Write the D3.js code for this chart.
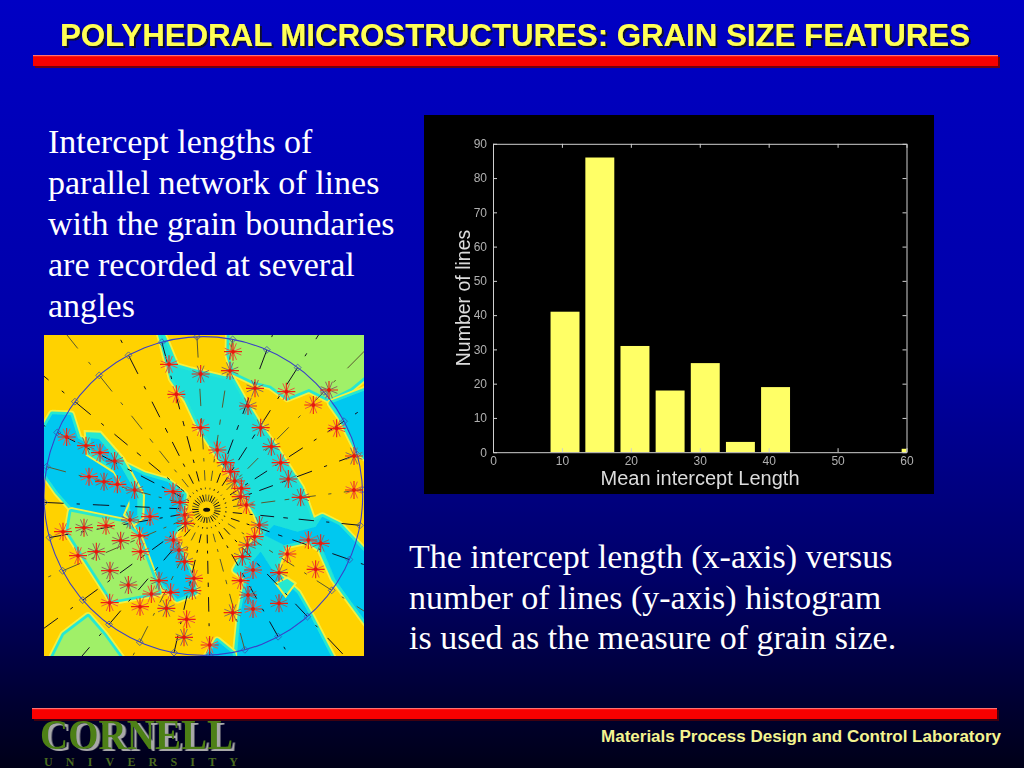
<!DOCTYPE html>
<html><head><meta charset="utf-8">
<script src="https://cdn.jsdelivr.net/npm/d3@7"></script>
<style>html,body{margin:0;padding:0;background:#000}svg{display:block}</style></head><body>
<svg id="s" width="1024" height="768"></svg>
<script>
// ---- slide text
const titleText = "POLYHEDRAL MICROSTRUCTURES: GRAIN SIZE FEATURES";
const leftLines = ["Intercept lengths of","parallel network of lines","with the grain boundaries","are recorded at several","angles"];
const rightLines = ["The intercept length (x-axis) versus","number of lines (y-axis) histogram","is used as the measure of grain size."];
const footerText = "Materials Process Design and Control Laboratory";
// ---- histogram
const binCenters = [10.45,15.5,20.6,25.7,30.8,35.9,41.0];
const binCounts = [41,86,31,18,26,3,19];
const lastBinCenter = [59.7];
const lastBinCount = [1];
const xTicks = [0,10,20,30,40,50,60];
const yTicks = [0,10,20,30,40,50,60,70,80,90];
const xLabel = "Mean intercept Length";
const yLabel = "Number of lines";
// ---- microstructure map (picture units, 0-960)
const regionGreenTop = [[557,-20],[980,-20],[980,110],[920,160],[855,192],[795,162],[730,188],[680,152],[630,140],[570,112],[555,60]];
const regionBlueRight = [[862,205],[980,160],[980,380],[940,345],[890,245]];
const regionMainBand = [[345,-20],[368,30],[395,95],[440,108],[540,132],[562,132],[600,200],[640,265],[700,350],[770,460],[805,560],[835,545],[885,570],[980,670],[980,880],[870,730],[830,640],[790,615],[720,630],[690,712],[760,775],[800,845],[870,980],[575,980],[590,830],[610,730],[575,705],[605,650],[660,595],[640,540],[590,450],[530,370],[470,280],[430,195],[385,130]];
const regionBlueLeft = [[-20,315],[25,238],[80,240],[102,310],[220,380],[300,420],[370,440],[420,480],[412,560],[385,600],[440,720],[452,772],[400,792],[340,730],[300,610],[285,575],[240,570],[80,515],[40,470],[-20,385]];
const regionStripA = [[122,288],[170,290],[240,370],[300,480],[298,550],[270,572],[240,540],[262,490],[210,412],[128,360]];
const regionBlueInner = [[140,310],[165,312],[225,385],[280,480],[280,540],[262,555],[255,490],[205,400],[140,345]];
const regionGreenLow = [[82,530],[240,562],[280,600],[345,772],[205,797],[72,590]];
const regionGreenCorner = [[20,980],[60,900],[132,845],[180,900],[238,980]];
const regionBlueFoot = [[480,980],[520,918],[565,955],[575,980]];
const regionBlueLower = [[590,720],[610,735],[590,830],[578,980],[870,980],[800,845],[760,775],[690,712],[650,650]];
const regionBlueMid = [[660,600],[720,630],[790,615],[835,640],[875,735],[980,880],[980,670],[885,570],[835,545],[815,575],[760,590],[690,570]];
const regionYellowPatch = [[695,745],[730,728],[755,745],[725,785]];
// radial grid: angle of each spoke in degrees clockwise from top
const spokeAngles = [10.6,23.5,36.3,49.2,62,74.9,87.7,100.6,113.5,126.3,139.2,152,164.9,177.7,190.6,203.5,216.3,229.2,242,254.9,267.7,280.6,293.5,306.3,319.2,332,344.9,357.7];
// dash start/end along a spoke, as a fraction of the distance to the circle
const dashFrom = [0.05,0.12,0.17,0.28,0.35,0.50,0.60,0.78,0.88,1.08,1.20];
const dashTo   = [0.09,0.13,0.23,0.30,0.44,0.53,0.70,0.80,1.00,1.10,1.35];
const markerX = [567,558,375,470,397,633,727,855,808,612,470,650,878,682,520,545,710,930,68,126,168,212,135,180,220,272,387,408,560,572,592,590,607,733,930,770,422,424,318,258,186,120,57,646,632,610,793,830,287,230,388,405,290,157,102,595,730,422,627,705,815,198,450,345,590,253,380,445,322,612,197,705,288,367,627,566,428,420,497];
const markerY = [50,107,88,117,178,160,170,165,210,213,278,278,280,335,345,383,383,363,306,332,353,378,425,440,448,465,470,502,410,438,460,485,510,432,465,487,540,565,545,555,572,578,590,570,605,630,615,625,602,617,615,645,650,650,662,665,657,680,705,713,703,707,730,737,737,750,772,767,777,780,803,805,815,820,822,833,853,907,930];

const svg = d3.select("#s");
const defs = svg.append("defs");
const bg = defs.append("linearGradient").attr("id","bg").attr("x1",0).attr("y1",0).attr("x2",0).attr("y2",1);
[[0,"#0000c4"],[0.45,"#0000a8"],[0.75,"#000068"],[0.92,"#000030"],[1,"#000018"]].forEach(d=>bg.append("stop").attr("offset",d[0]).attr("stop-color",d[1]));
const bl = defs.append("filter").attr("id","soft"); bl.append("feGaussianBlur").attr("stdDeviation",0.45);
const bl2 = defs.append("filter").attr("id","soft2"); bl2.append("feGaussianBlur").attr("stdDeviation",0.4);
const sh = defs.append("filter").attr("id","tsh").attr("x","-5%").attr("y","-20%").attr("width","110%").attr("height","150%");
sh.append("feDropShadow").attr("dx",2).attr("dy",2).attr("stdDeviation",0.4).attr("flood-color","#111133");
const lg = defs.append("filter").attr("id","lsh").attr("x","-5%").attr("y","-20%").attr("width","115%").attr("height","150%");
lg.append("feDropShadow").attr("dx",3.5).attr("dy",2).attr("stdDeviation",0.3).attr("flood-color","#a8a8a8");
svg.append("rect").attr("width",1024).attr("height",768).attr("fill","url(#bg)");

// red rules
function rule(xp,yp,w,h,shadow){
  svg.append("rect").attr("x",xp+2).attr("y",yp+2).attr("width",w).attr("height",h).attr("fill",shadow);
  svg.append("rect").attr("x",xp).attr("y",yp).attr("width",w).attr("height",h).attr("fill","#f80000");
  svg.append("rect").attr("x",xp).attr("y",yp).attr("width",w).attr("height",1.2).attr("fill","#ff7070");
}
rule(33,55,965,11,"#700010");
rule(32,708,965,11,"#400010");

const sans = "'Liberation Sans',Arial,sans-serif", serif = "'Liberation Serif','Times New Roman',serif";
svg.append("text").attr("x",515).attr("y",46).attr("text-anchor","middle").attr("font-family",sans).attr("font-weight","bold").attr("font-size",31.5).attr("textLength",910).attr("lengthAdjust","spacingAndGlyphs").attr("fill","#ffff55").attr("filter","url(#tsh)").text(titleText);

svg.selectAll("text.l").data(leftLines).join("text").attr("class","l").attr("x",48).attr("y",(d,i)=>153+i*41).attr("font-family",serif).attr("font-size",34).attr("fill","#fff").text(d=>d);
svg.selectAll("text.r").data(rightLines).join("text").attr("class","r").attr("x",409).attr("y",(d,i)=>568+i*40.5).attr("font-family",serif).attr("font-size",34).attr("fill","#fff").text(d=>d);

// ---- histogram
svg.append("rect").attr("x",424).attr("y",115).attr("width",510).attr("height",379).attr("fill","#000");
const x = d3.scaleLinear().domain([0,60]).range([493,906.5]);
const y = d3.scaleLinear().domain([0,90]).range([452.2,143.8]);
const hist = svg.append("g").attr("filter","url(#soft2)");
const binW = 4.2;
hist.selectAll("rect.b").data(binCenters.map((c,i)=>[c,binCounts[i]])).join("rect").attr("class","b")
  .attr("x",d=>x(d[0]-binW/2)).attr("width",d=>x(binW)-x(0)).attr("y",d=>y(d[1])).attr("height",d=>y(0)-y(d[1])).attr("fill","#ffff66");
hist.selectAll("rect.c").data(lastBinCenter.map((c,i)=>[c,lastBinCount[i]])).join("rect").attr("class","c")
  .attr("x",d=>x(d[0]-0.4)).attr("width",d=>x(60)-x(d[0]-0.4)).attr("y",d=>y(d[1])).attr("height",d=>y(0)-y(d[1])).attr("fill","#ffff66");
function sty(g,lab){
  g.selectAll("path,line").attr("stroke","#d0d0d0").attr("stroke-width",1);
  g.selectAll("text").attr("font-family",sans).attr("font-size",lab?12:0).attr("fill","#b0b0b0");
}
hist.append("g").attr("transform","translate(0,452.2)").call(d3.axisBottom(x).tickValues(xTicks).tickSize(-4).tickSizeOuter(0).tickPadding(4)).call(g=>sty(g,true));
hist.append("g").attr("transform","translate(0,143.8)").call(d3.axisTop(x).tickValues(xTicks).tickSize(-4).tickSizeOuter(0).tickFormat("")).call(g=>sty(g,false));
hist.append("g").attr("transform","translate(493,0)").call(d3.axisLeft(y).tickValues(yTicks).tickSize(-4).tickSizeOuter(0).tickPadding(6)).call(g=>sty(g,true));
hist.append("g").attr("transform","translate(906.5,0)").call(d3.axisRight(y).tickValues(yTicks).tickSize(-4).tickSizeOuter(0).tickFormat("")).call(g=>sty(g,false));
hist.append("text").attr("x",700).attr("y",485).attr("text-anchor","middle").attr("font-family",sans).attr("font-size",20).attr("fill","#dcdcdc").text(xLabel);
hist.append("text").attr("transform","translate(470,298) rotate(-90)").attr("text-anchor","middle").attr("font-family",sans).attr("font-size",19.5).attr("fill","#dcdcdc").text(yLabel);

// ---- microstructure map
const mx = d3.scaleLinear().domain([0,960]).range([44,364]);
const my = d3.scaleLinear().domain([0,966]).range([335,657]);
defs.append("clipPath").attr("id","mc").append("rect").attr("x",44).attr("y",335).attr("width",320).attr("height",321);
const map = svg.append("g").attr("clip-path","url(#mc)").append("g").attr("filter","url(#soft)");
const line = d3.line().x(d=>mx(d[0])).y(d=>my(d[1])).curve(d3.curveLinearClosed);
map.append("rect").attr("x",44).attr("y",335).attr("width",320).attr("height",322).attr("fill","#ffd200");
function region(pts,fill){
  map.append("path").attr("d",line(pts)).attr("fill","none").attr("stroke","#f4f040").attr("stroke-width",9).attr("stroke-linejoin","round");
  map.append("path").attr("d",line(pts)).attr("fill","none").attr("stroke","#28e8d0").attr("stroke-width",5.5).attr("stroke-linejoin","round");
  map.append("path").attr("d",line(pts)).attr("fill",fill);
}
region(regionGreenTop,"#a0f068");
region(regionBlueRight,"#00c8f0");
region(regionMainBand,"#1ce0dc");
region(regionBlueLeft,"#00c8f0");
map.append("path").attr("d",line(regionStripA)).attr("fill","#28e8d0").attr("stroke","#f4f040").attr("stroke-width",2);
map.append("path").attr("d",line(regionBlueInner)).attr("fill","#00c8f0");
region(regionGreenLow,"#a0f068");
region(regionGreenCorner,"#a0f068");
region(regionBlueFoot,"#00c8f0");
map.append("path").attr("d",line(regionBlueMid)).attr("fill","#00c8f0");
map.append("path").attr("d",line(regionBlueLower)).attr("fill","#00c8f0");
map.append("path").attr("d",line(regionYellowPatch)).attr("fill","#28e8d0").attr("stroke","#f4f040").attr("stroke-width",2);

const c0 = {x:478,y:483,r:478}, focus = {x:488,y:525};
const rad = d=>d*Math.PI/180;
const onCircle = a=>[c0.x+c0.r*Math.sin(rad(a)), c0.y-c0.r*Math.cos(rad(a))];
const along = (a,f)=>{const p=onCircle(a);return [mx(focus.x+(p[0]-focus.x)*f),my(focus.y+(p[1]-focus.y)*f)]};
// spokes: rings of dashes
spokeAngles.forEach((a,k)=>{
  map.selectAll(null).data(dashFrom.map((f,i)=>[f,dashTo[i]])).join("line")
    .attr("x1",d=>along(a,d[0])[0]).attr("y1",d=>along(a,d[0])[1])
    .attr("x2",d=>along(a,d[1])[0]).attr("y2",d=>along(a,d[1])[1])
    .attr("stroke",k%3==0?"#5a5a30":"#101020").attr("stroke-width",1);
});
map.append("ellipse").attr("cx",mx(488)).attr("cy",my(524)).attr("rx",3.5).attr("ry",2).attr("fill","#111");
// circle and diamonds
map.append("circle").attr("cx",mx(c0.x)).attr("cy",my(c0.y)).attr("r",mx(c0.r)-mx(0)).attr("fill","none").attr("stroke","#3a40c8").attr("stroke-width",1.1);
map.selectAll("path.d").data(spokeAngles).join("path").attr("class","d")
  .attr("d",d3.symbol().type(d3.symbolDiamond2).size(30))
  .attr("transform",a=>{const p=onCircle(a);return `translate(${mx(p[0])},${my(p[1])})`})
  .attr("fill","none").attr("stroke","#3a50b0").attr("stroke-width",0.8);
// star markers
const star = d3.path();
const arm = 9;
[22,67,112,157].forEach(a=>{const dx=arm*Math.cos(rad(a)),dy=arm*Math.sin(rad(a));star.moveTo(-dx,-dy);star.lineTo(dx,dy);});
const star2 = d3.path();
star2.moveTo(-arm,0);star2.lineTo(arm,0);star2.moveTo(0,-arm);star2.lineTo(0,arm);
const mk = map.selectAll("g.m").data(markerX.map((v,i)=>[v,markerY[i]])).join("g").attr("class","m")
  .attr("transform",d=>`translate(${mx(d[0])},${my(d[1])})`);
mk.append("path").attr("d",star.toString()).attr("fill","none").attr("stroke",(d,i)=>i%2?"#8a6a60":"#e85a40").attr("stroke-width",1);
mk.append("path").attr("d",star2.toString()).attr("fill","none").attr("stroke","#f02010").attr("stroke-width",1.1);
mk.append("circle").attr("r",2).attr("fill","#e81808");

// ---- footer
svg.append("text").attr("x",1001).attr("y",742).attr("text-anchor","end").attr("font-family",sans).attr("font-weight","bold").attr("font-size",16).attr("textLength",400).attr("lengthAdjust","spacingAndGlyphs").attr("fill","#f4f490").text(footerText);
svg.append("text").attr("x",40).attr("y",749).attr("font-family",serif).attr("font-weight","bold").attr("font-size",42).attr("textLength",193).attr("lengthAdjust","spacingAndGlyphs").attr("fill","#4e8012").attr("filter","url(#lsh)").text("CORNELL");
svg.append("text").attr("x",44).attr("y",766).attr("font-family",serif).attr("font-weight","bold").attr("font-size",12).attr("textLength",194).attr("lengthAdjust","spacing").attr("fill","#4a6a20").text("UNIVERSITY");
</script></body></html>
